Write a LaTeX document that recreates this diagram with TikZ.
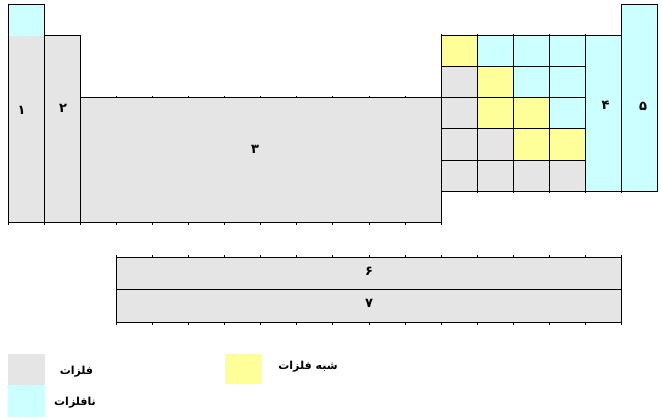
\documentclass[tikz,border=0pt]{standalone}
\usepackage{fontspec}
\newfontfamily\fa[Script=Arabic]{DejaVu Sans}
\TeXXeTstate=1
\definecolor{metal}{HTML}{E5E5E5}
\definecolor{nonmetal}{HTML}{CCFFFF}
\definecolor{metalloid}{HTML}{FFFF99}
\begin{document}
\begin{tikzpicture}[x=1pt,y=-1pt,
  cellbox/.style={draw=black,line width=0.9pt,inner sep=0pt,outer sep=0pt,anchor=north west,minimum width=36.1pt,minimum height=31.1pt},
  plainbox/.style={inner sep=0pt,outer sep=0pt,anchor=north west,minimum width=37pt},
  lbl/.style={font=\fa\bfseries\fontsize{13}{15}\selectfont,inner sep=0pt},
  keytext/.style={font=\fa\bfseries\fontsize{11}{13}\selectfont,inner sep=0pt},
  tickmark/.style={line width=0.9pt}]
\useasboundingbox (0,0) rectangle (661,420);
% group 1 (with nonmetal top cell)
\node[cellbox,draw=none,fill=metal,minimum height=217.7pt] (g1) at (8,4.5) {};
\fill[nonmetal] (g1.north west) rectangle (44.1,35.6);
\draw[line width=0.9pt] (g1.north west) rectangle (g1.south east);
% group 2
\node[cellbox,fill=metal,minimum height=186.6pt] (g2) at (44.1,35.6) {};
% d-block
\node[cellbox,fill=metal,minimum width=361pt,minimum height=124.4pt] (d) at (80.2,97.8) {};
% p-block cells
\foreach \c/\r/\f in {12/1/metalloid,13/1/nonmetal,14/1/nonmetal,15/1/nonmetal,
  12/2/metal,13/2/metalloid,14/2/nonmetal,15/2/nonmetal,
  12/3/metal,13/3/metalloid,14/3/metalloid,15/3/nonmetal,
  12/4/metal,13/4/metal,14/4/metalloid,15/4/metalloid,
  12/5/metal,13/5/metal,14/5/metal,15/5/metal}
  \node[cellbox,fill=\f] (p\c-\r) at ({8+36.1*\c},{4.5+31.1*\r}) {};
% groups 4 and 5
\node[cellbox,fill=nonmetal,minimum height=155.5pt] (g4) at (585.6,35.6) {};
\node[cellbox,fill=nonmetal,minimum height=186.6pt] (g5) at (621.7,4.5) {};
% f-block rows
\node[cellbox,fill=metal,minimum width=505.4pt,minimum height=32.5pt] (f6) at (116.3,257) {};
\node[cellbox,fill=metal,minimum width=505.4pt,minimum height=32.5pt] (f7) at (116.3,289.5) {};
% ticks
\foreach \i in {0,...,12} \draw[tickmark] ({8+36.1*\i},222.2) -- ++(0,2.5);
\foreach \i in {3,...,11} \draw[tickmark] ({8+36.1*\i},97.8) -- ++(0,-2);
\foreach \i in {12,...,16} \draw[tickmark] ({8+36.1*\i},35.6) -- ++(0,-2);
\foreach \i in {12,...,17} \draw[tickmark] ({8+36.1*\i},191.1) -- ++(0,2);
\foreach \i in {3,...,17} {
  \draw[tickmark] ({8+36.1*\i},257) -- ++(0,-2);
  \draw[tickmark] ({8+36.1*\i},322) -- ++(0,2.5);}
% labels
\node[lbl] (l1) at (21.5,110) {۱};
\node[lbl] (l2) at (63,108) {۲};
\node[lbl] (l3) at (255,149) {۳};
\node[lbl] (l4) at (605.5,105) {۴};
\node[lbl] (l5) at (643,106) {۵};
\node[lbl] (l6) at (369,271) {۶};
\node[lbl] (l7) at (369,303.5) {۷};
% legend
\node[plainbox,fill=metal,minimum height=31pt] (kmetal) at (8,354) {};
\node[plainbox,fill=nonmetal,minimum height=32pt] (knonmetal) at (8,385) {};
\node[plainbox,fill=metalloid,minimum height=30pt] (kmetalloid) at (225,354) {};
\node[keytext] (tmetal) at (76.5,372) {\beginR فلزات\endR};
\node[keytext] (tnonmetal) at (75,403) {\beginR نافلزات\endR};
\node[keytext] (tmetalloid) at (308,367) {\beginR شبه فلزات\endR};
\end{tikzpicture}
\end{document}
